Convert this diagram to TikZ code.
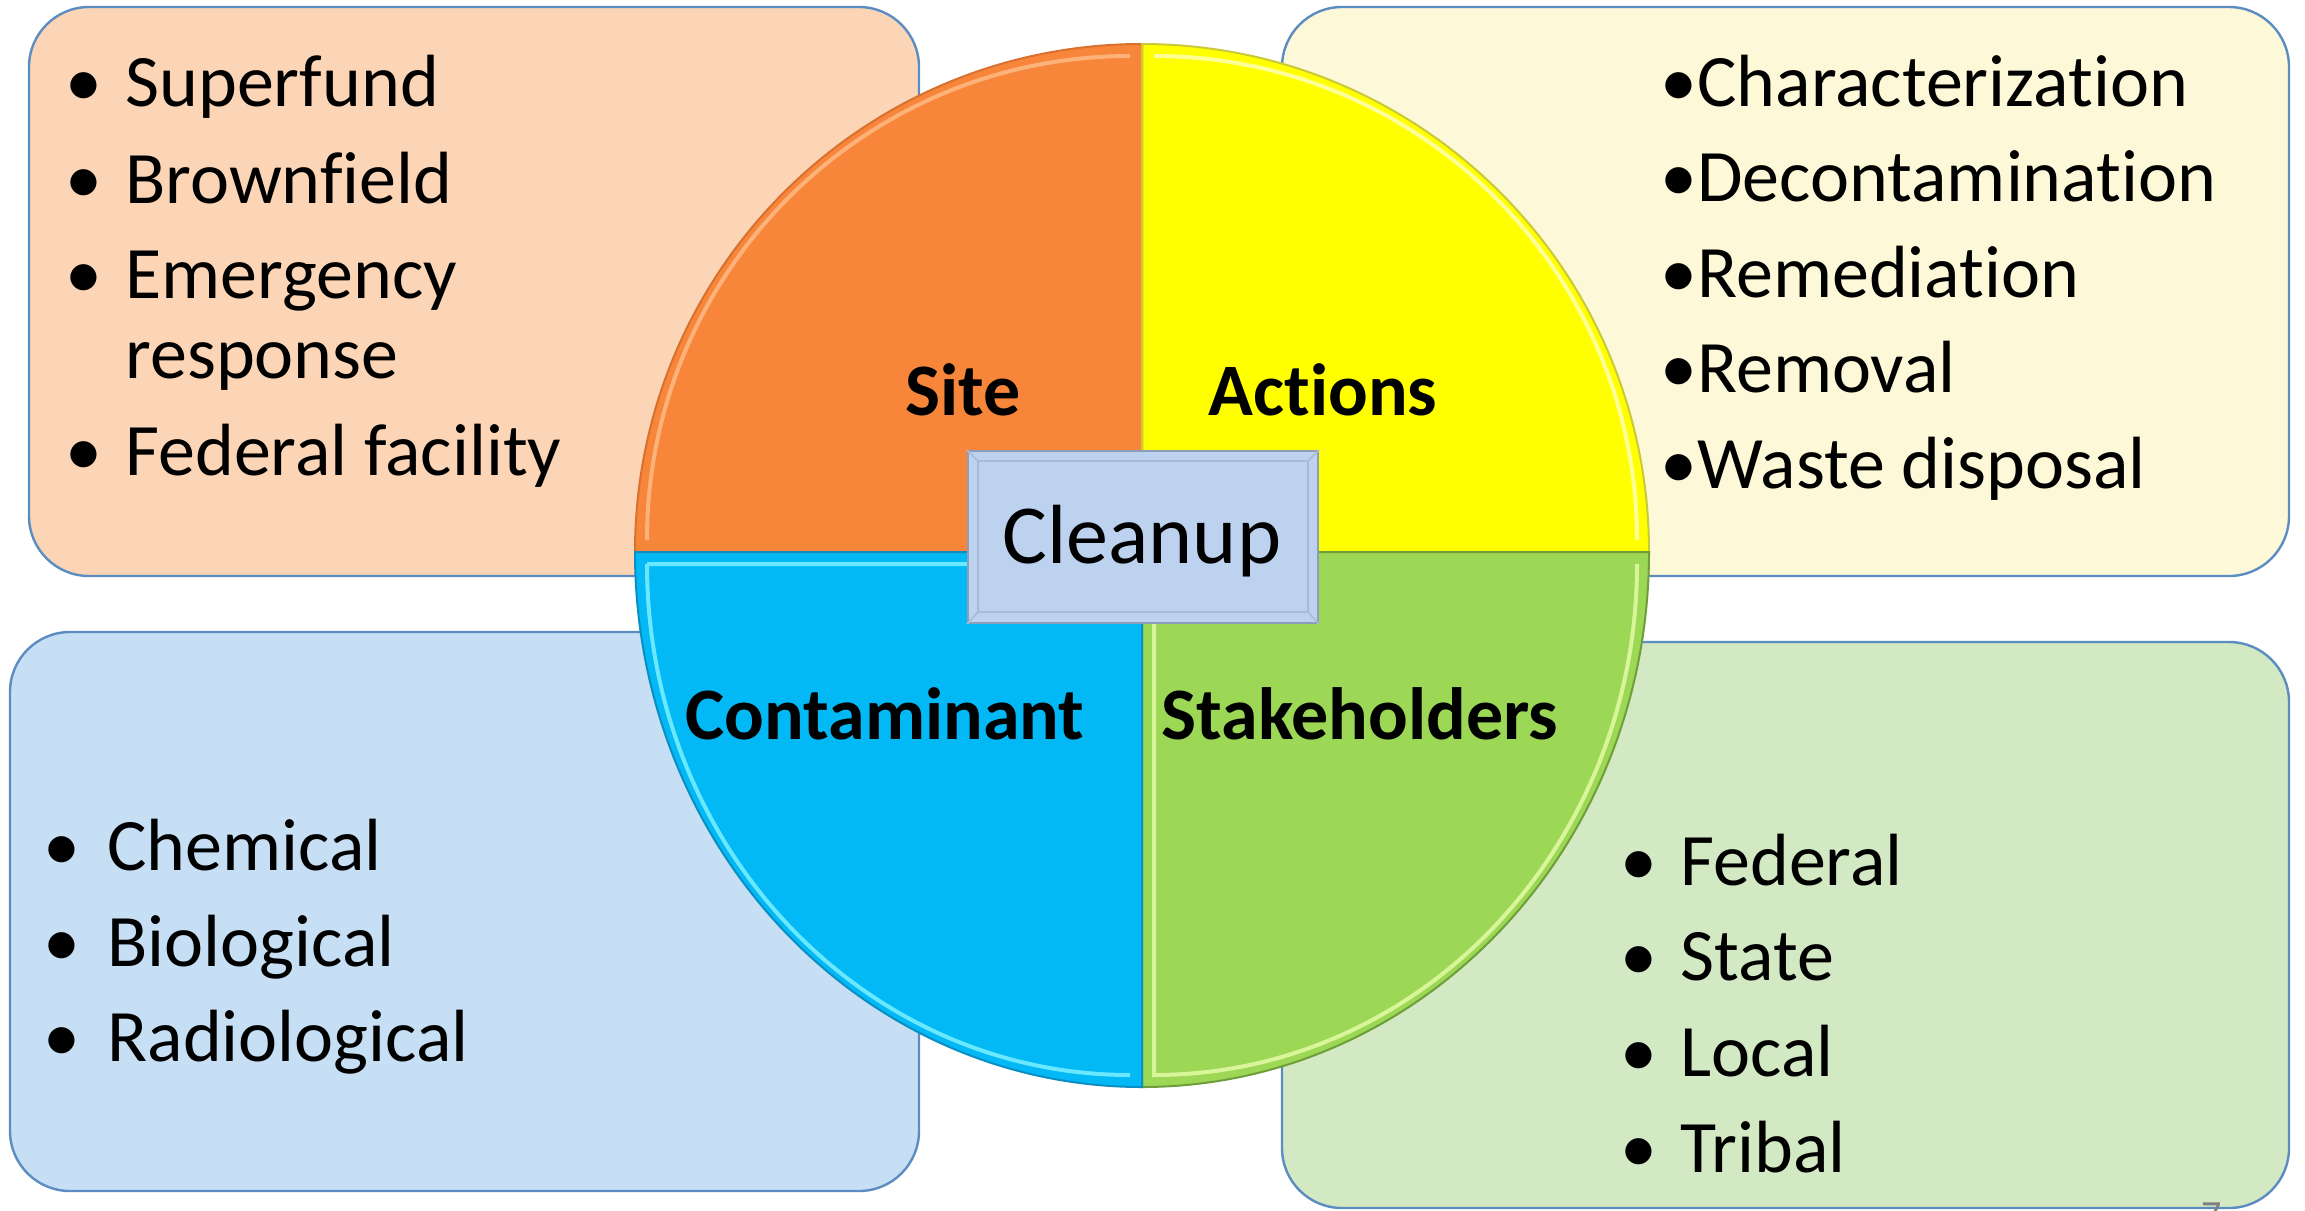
\documentclass[tikz,border=0pt]{standalone}
\usepackage{fontspec}
\setmainfont{Carlito}[Ligatures={NoCommon,NoContextual}]
\definecolor{peach}{HTML}{FBD5B6}
\definecolor{cream}{HTML}{FDF8D8}
\definecolor{lblue}{HTML}{C7DFF4}
\definecolor{lgreen}{HTML}{D2E9C4}
\definecolor{boxedge}{HTML}{5B8CC2}
\definecolor{qorange}{HTML}{F7863A}
\definecolor{qorangeD}{HTML}{D9712E}
\definecolor{qorangeL}{HTML}{FDB27A}
\definecolor{qyellow}{HTML}{FFFF00}
\definecolor{qyellowD}{HTML}{C9C93A}
\definecolor{qyellowL}{HTML}{FFFF9A}
\definecolor{qblue}{HTML}{02B9F5}
\definecolor{qblueD}{HTML}{0A8FC4}
\definecolor{qblueL}{HTML}{6AE8FF}
\definecolor{qgreen}{HTML}{9CD856}
\definecolor{qgreenD}{HTML}{6E9E3A}
\definecolor{qgreenL}{HTML}{D8F59A}
\definecolor{cleanfill}{HTML}{BCD2EF}
\definecolor{cleanedge}{HTML}{8C9EBA}
\definecolor{cleaninner}{HTML}{A6BBD8}
\tikzset{
  infobox/.style={rounded corners=30pt, draw=boxedge, line width=1.2pt},
  itemtxt/.style={anchor=base west, inner sep=0pt, font=\fontsize{37}{44}\selectfont},
  bul/.style={anchor=base, inner sep=0pt, font=\fontsize{37}{44}\selectfont},
  quadlbl/.style={anchor=base, inner sep=0pt, font=\fontsize{37}{44}\selectfont\bfseries},
  quadedge/.style={line width=1pt},
  quadbevel/.style={line width=2pt}
}
\begin{document}
\begin{tikzpicture}[x=0.5pt,y=-0.5pt]
\useasboundingbox (0,0) rectangle (2305,1210);
% info boxes
\draw[infobox, fill=peach] (29,7) rectangle (919,576);
\draw[infobox, fill=cream] (1282,7) rectangle (2289,576);
\draw[infobox, fill=lblue] (10,632) rectangle (919,1191);
\draw[infobox, fill=lgreen] (1282,642) rectangle (2289,1208);
% pie quadrants
\fill[qorange] (1142,552) -- (635,552) arc[start angle=180,end angle=270,x radius=507,y radius=508] -- cycle;
\fill[qyellow] (1142,552) -- (1142,44) arc[start angle=270,end angle=360,x radius=507,y radius=508] -- cycle;
\fill[qgreen] (1142,552) -- (1649,552) arc[start angle=0,end angle=90,x radius=507,y radius=535] -- cycle;
\fill[qblue] (1142,552) -- (1142,1087) arc[start angle=90,end angle=180,x radius=507,y radius=535] -- cycle;
% bevels
\draw[quadbevel, qorangeL] (647,540) arc[start angle=180,end angle=270,x radius=483,y radius=484];
\draw[quadbevel, qyellowL] (1154,56) arc[start angle=270,end angle=360,x radius=483,y radius=484];
\draw[quadbevel, qgreenL] (1637,564) arc[start angle=0,end angle=90,x radius=483,y radius=511] -- (1154,564);
\draw[quadbevel, qblueL] (1130,564) -- (647,564) (1130,1075) arc[start angle=90,end angle=180,x radius=483,y radius=511];
\draw[quadedge, qorangeD] (1142,552) -- (635,552) arc[start angle=180,end angle=270,x radius=507,y radius=508] -- cycle;
\draw[quadedge, qyellowD] (1142,552) -- (1142,44) arc[start angle=270,end angle=360,x radius=507,y radius=508] -- cycle;
\draw[quadedge, qgreenD] (1142,552) -- (1649,552) arc[start angle=0,end angle=90,x radius=507,y radius=535] -- cycle;
\draw[quadedge, qblueD] (1142,552) -- (1142,1087) arc[start angle=90,end angle=180,x radius=507,y radius=535] -- cycle;
% cleanup box
\node[draw=cleanedge, line width=1pt, fill=cleanfill, minimum width=175pt, minimum height=86pt, inner sep=0pt] (clean) at (1143,537) {};
\draw[cleaninner, line width=0.8pt] (978,461) rectangle (1308,612);
\draw[cleaninner, line width=0.8pt] (clean.north west) -- (978,461) (clean.north east) -- (1308,461) (clean.south west) -- (978,612) (clean.south east) -- (1308,612);
\node[anchor=base, inner sep=0pt, font=\fontsize{42}{50}\selectfont] (cleantxt) at (1142,563) {Cleanup};
% quadrant labels
\node[quadlbl] (site) at (963,415) {Site};
\node[quadlbl] (actions) at (1323,415) {Actions};
\node[quadlbl] (contam) at (885,739) {Contaminant};
\node[quadlbl] (stake) at (1360,739) {Stakeholders};
% top-left list
\node[bul] (b1) at (84,106) {•};
\node[itemtxt] (t1) at (125,106) {Superfund};
\node[bul] (b2) at (84,203) {•};
\node[itemtxt] (t2) at (125,203) {Brownfield};
\node[bul] (b3) at (84,298) {•};
\node[itemtxt] (t3) at (125,298) {Emergency};
\node[itemtxt] (t3b) at (125,378) {response};
\node[bul] (b4) at (84,475) {•};
\node[itemtxt] (t4) at (125,475) {Federal facility};
% top-right list
\node[itemtxt] (a1) at (1660,106) {•Characterization};
\node[itemtxt] (a2) at (1660,201) {•Decontamination};
\node[itemtxt] (a3) at (1660,297) {•Remediation};
\node[itemtxt] (a4) at (1660,392) {•Removal};
\node[itemtxt] (a5) at (1660,488) {•Waste disposal};
% bottom-left list
\node[bul] (c1b) at (62,870) {•};
\node[itemtxt] (c1) at (107,870) {Chemical};
\node[bul] (c2b) at (62,966) {•};
\node[itemtxt] (c2) at (107,966) {Biological};
\node[bul] (c3b) at (62,1061) {•};
\node[itemtxt] (c3) at (107,1061) {Radiological};
% bottom-right list
\node[bul] (s1b) at (1639,885) {•};
\node[itemtxt] (s1) at (1680,885) {Federal};
\node[bul] (s2b) at (1639,980) {•};
\node[itemtxt] (s2) at (1680,980) {State};
\node[bul] (s3b) at (1639,1076) {•};
\node[itemtxt] (s3) at (1680,1076) {Local};
\node[bul] (s4b) at (1639,1172) {•};
\node[itemtxt] (s4) at (1680,1172) {Tribal};
% page number (cut by the edge, as in the reference)
\node[anchor=base, inner sep=0pt, text=gray, font=\fontsize{20}{24}\selectfont] (pg) at (2212,1228) {7};
\end{tikzpicture}
\end{document}
